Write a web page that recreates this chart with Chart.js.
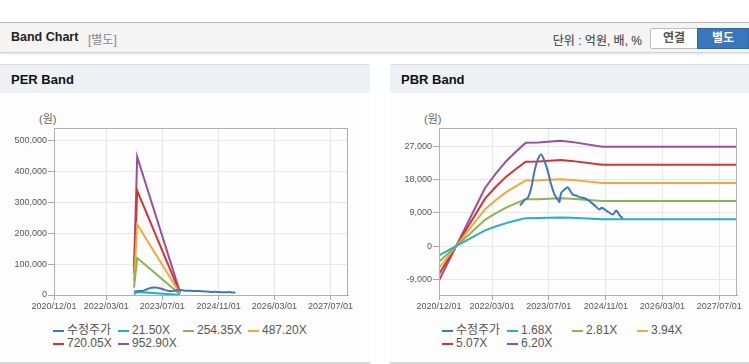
<!DOCTYPE html>
<html>
<head>
<meta charset="utf-8">
<script src="https://cdn.jsdelivr.net/npm/chart.js@4.4.1/dist/chart.umd.min.js"></script>
<style>
body { margin:0; width:749px; height:364px; overflow:hidden; background:#fff; position:relative;
	font-family:"Liberation Sans", "Noto Sans CJK KR", sans-serif; }
.topline { position:absolute; left:0; top:22px; width:749px; height:1px; background:#b9b9b9; }
.head { position:absolute; left:0; top:23px; width:749px; height:29px; background:#f4f4f4;
	border-bottom:1px solid #d4d4d4; box-shadow:0 1px 2px rgba(0,0,0,0.12); }
.head .title { position:absolute; left:11px; top:7px; font-weight:bold; font-size:12.5px; color:#222; }
.head .sub { position:absolute; left:88px; top:7px; font-size:12px; color:#888; }
.head .unit { position:absolute; right:107px; top:8px; font-size:12px; color:#333; }
.btn { position:absolute; top:5px; height:21px; line-height:19px; text-align:center; font-size:12px;
	font-weight:bold; box-sizing:border-box; }
.btn.off { left:650px; width:48px; background:#fff; border:1px solid #bbb; color:#555; border-radius:2px 0 0 2px; }
.btn.on { left:697px; width:52px; background:#3876bd; color:#fff; border:1px solid #2f67a8; }
.panel { position:absolute; top:64px; height:297px; background:#fdfdfd; border-top:1px solid #dcdcdc;
	border-bottom:2px solid #dadada; }
.panel .ptitle { height:28px; background:#edf1f6; font-weight:bold; font-size:13px; color:#111;
	line-height:30px; padding-left:11px; }
.unitlabel { position:absolute; top:110px; font-size:11px; color:#666; }
canvas { position:absolute; }
.legend { position:absolute; top:324px; font-size:12px; color:#555; }
.legend .item { position:absolute; white-space:nowrap; height:13px; line-height:13px; }
.legend .mark { display:inline-block; width:11px; height:2px; vertical-align:middle; margin-right:3px; }
</style>
</head>
<body>
<div class="topline"></div>
<div class="head">
	<span class="title">Band Chart</span>
	<span class="sub">[별도]</span>
	<span class="unit">단위 : 억원, 배, %</span>
	<div class="btn off">연결</div>
	<div class="btn on">별도</div>
</div>
<div class="panel" style="left:0;width:370px"><div class="ptitle">PER Band</div></div>
<div class="panel" style="left:390px;width:359px"><div class="ptitle">PBR Band</div></div>
<span class="unitlabel" style="left:39px">(원)</span>
<span class="unitlabel" style="left:424px">(원)</span>
<canvas id="per" width="370" height="225" style="left:0;top:95px"></canvas>
<canvas id="pbr" width="359" height="225" style="left:390px;top:95px"></canvas>
<div class="legend" id="perLegend" style="left:53px"></div>
<div class="legend" id="pbrLegend" style="left:442px"></div>
<script>
// x axis (dates)
var xTickLabels = ['2020/12/01', '2022/03/01', '2023/07/01', '2024/11/01', '2026/03/01', '2027/07/01'];
var xFirstDate = '2020/12/01';
var xLastDate = '2027/12/01';

// 수정주가
var priceDates = ['2022/10/27', '2022/11/24', '2022/12/08', '2023/01/02', '2023/01/31', '2023/02/28',
	'2023/03/28', '2023/04/26', '2023/05/25', '2023/06/22', '2023/07/21', '2023/08/19', '2023/09/16',
	'2023/09/30', '2023/10/15', '2023/11/12', '2023/12/10', '2023/12/25', '2024/01/22', '2024/02/20',
	'2024/03/20', '2024/05/16', '2024/07/26', '2024/09/07', '2024/09/27', '2024/11/04', '2024/12/31',
	'2025/01/29', '2025/02/26', '2025/03/27'];
var priceValues = [11000, 12000, 12600, 13040, 15740, 20250,
	23400, 24740, 22950, 20250, 16630, 13930, 12580,
	11960, 14390, 15280, 15930, 15280, 13930, 13660,
	13230, 12770, 11070, 9880, 10340, 9610, 8530,
	9610, 8370, 7450];

// PER band
var perLabels = ['수정주가', '21.50X', '254.35X', '487.20X', '720.05X', '952.90X'];
var perDates = ['2022/10/27', '2022/11/03', '2022/11/10', '2022/11/17', '2022/11/24', '2023/12/01'];
var per21 = [2000, 3900, 5900, 7800, 10100, 220];
var per254 = [24200, 45800, 69900, 92800, 119800, 2500];
var per487 = [46300, 87700, 134000, 177800, 229500, 4900];
var per720 = [68400, 129600, 198000, 262800, 339100, 7200];
var per952 = [90500, 171500, 262000, 347800, 448800, 9500];
var perYTicks = [0, 100000, 200000, 300000, 400000, 500000];
var perYMax = 542000;

// PBR band
var pbrLabels = ['수정주가', '1.68X', '2.81X', '3.94X', '5.07X', '6.20X'];
var pbrDates = ['2020/12/01', '2021/12/31', '2022/03/31', '2022/06/30', '2022/09/30', '2022/12/15',
	'2023/04/01', '2023/10/10', '2024/01/10', '2024/10/01', '2027/12/01'];
var pbr168 = [-2520, 4250, 5290, 6220, 6970, 7560, 7580, 7710, 7630, 7270, 7270];
var pbr281 = [-4215, 7110, 8850, 10400, 11660, 12645, 12670, 12900, 12760, 12170, 12170];
var pbr394 = [-5910, 9970, 12410, 14580, 16350, 17730, 17770, 18080, 17890, 17060, 17060];
var pbr507 = [-7605, 12830, 15970, 18760, 21040, 22815, 22870, 23270, 23020, 21950, 21950];
var pbr620 = [-9300, 15690, 19530, 22940, 25730, 27900, 27960, 28460, 28150, 26850, 26850];
var pbrYTicks = [-9000, 0, 9000, 18000, 27000];
var pbrYMin = -13200;
var pbrYMax = 31900;

var colors = ['#3b78c3', '#22b2c6', '#8cb34f', '#f3a83a', '#d7332c', '#984f9f'];

function dayOf(s)
{
	var p = s.split('/');
	var f = xFirstDate.split('/');
	return (Date.UTC(+p[0], p[1] - 1, +p[2]) - Date.UTC(+f[0], f[1] - 1, +f[2])) / 86400000;
}

function points(dates, values)
{
	return dates.map((d, i) => ({x: dayOf(d), y: values[i]}));
}

function dataset(label, color, data, smooth)
{
	return {
		label: label,
		data: data,
		borderColor: color,
		backgroundColor: color,
		borderWidth: 2,
		pointRadius: 0,
		tension: smooth ? 0.3 : 0,
		fill: false
	};
}

var frame = {
	id: 'frame',
	afterDatasetsDraw(chart)
	{
		var a = chart.chartArea, ctx = chart.ctx;
		ctx.save();
		ctx.strokeStyle = '#b0b0b0';
		ctx.lineWidth = 1;
		ctx.strokeRect(Math.round(a.left) + 0.5, Math.round(a.top) + 0.5,
			Math.round(a.right - a.left) - 1, Math.round(a.bottom - a.top));
		ctx.restore();
	}
};

var tickFont = {family: '"Liberation Sans", Arial, sans-serif', size: 9};

function makeChart(id, datasets, yTicks, yMin, yMax, yWidth, rightPad)
{
	return new Chart(document.getElementById(id), {
		type: 'line',
		data: {datasets: datasets},
		plugins: [frame],
		options: {
			responsive: false,
			animation: false,
			devicePixelRatio: 1,
			layout: {padding: {top: 33, right: rightPad, left: 0, bottom: 0}},
			plugins: {legend: {display: false}, tooltip: {enabled: false}},
			scales: {
				x: {
					type: 'linear',
					min: 0,
					max: dayOf(xLastDate),
					afterBuildTicks: s => { s.ticks = xTickLabels.map(l => ({value: dayOf(l)})); },
					afterFit: s => { s.height = 25; },
					ticks: {
						autoSkip: false, maxRotation: 0, padding: 1, color: '#555', font: tickFont,
						callback: v => xTickLabels.find(l => dayOf(l) === v) || ''
					},
					grid: {color: '#e7e7e7', tickColor: '#a8a8a8', tickLength: 5},
					border: {color: '#a8a8a8'}
				},
				y: {
					min: yMin,
					max: yMax,
					afterBuildTicks: s => { s.ticks = yTicks.map(v => ({value: v})); },
					afterFit: s => { s.width = yWidth; },
					ticks: {
						padding: 1, color: '#555', font: tickFont,
						callback: v => v.toLocaleString('en-US')
					},
					grid: {color: '#e7e7e7', tickColor: '#a8a8a8', tickLength: 6},
					border: {color: '#a8a8a8'}
				}
			}
		}
	});
}

function buildLegend(id, labels)
{
	var box = document.getElementById(id);
	labels.forEach((l, i) =>
	{
		var item = box.appendChild(document.createElement('div'));
		item.className = 'item';
		item.style.left = (i % 4) * 65 + 'px';
		item.style.top = Math.floor(i / 4) * 13 + 'px';
		var mark = item.appendChild(document.createElement('span'));
		mark.className = 'mark';
		mark.style.background = colors[i];
		item.appendChild(document.createTextNode(l));
	});
}

makeChart('per', [
	dataset(perLabels[0], colors[0], points(priceDates, priceValues), true),
	dataset(perLabels[1], colors[1], points(perDates, per21)),
	dataset(perLabels[2], colors[2], points(perDates, per254)),
	dataset(perLabels[3], colors[3], points(perDates, per487)),
	dataset(perLabels[4], colors[4], points(perDates, per720)),
	dataset(perLabels[5], colors[5], points(perDates, per952))
], perYTicks, 0, perYMax, 54, 22);

makeChart('pbr', [
	dataset(pbrLabels[0], colors[0], points(priceDates, priceValues), true),
	dataset(pbrLabels[1], colors[1], points(pbrDates, pbr168)),
	dataset(pbrLabels[2], colors[2], points(pbrDates, pbr281)),
	dataset(pbrLabels[3], colors[3], points(pbrDates, pbr394)),
	dataset(pbrLabels[4], colors[4], points(pbrDates, pbr507)),
	dataset(pbrLabels[5], colors[5], points(pbrDates, pbr620))
], pbrYTicks, pbrYMin, pbrYMax, 49, 12);

buildLegend('perLegend', perLabels);
buildLegend('pbrLegend', pbrLabels);
</script>
</body>
</html>
